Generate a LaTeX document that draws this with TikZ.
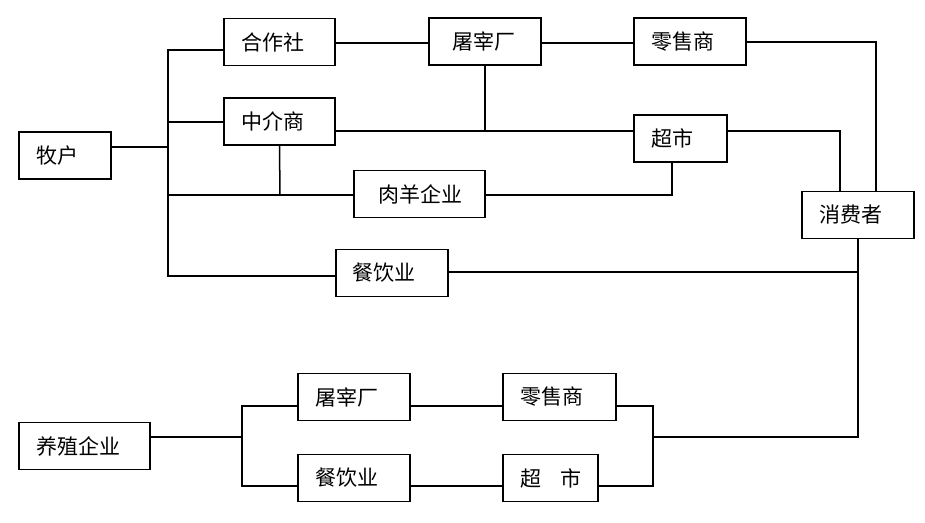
\documentclass[tikz,border=0pt]{standalone}
\usepackage{fontspec}
\newfontfamily\cjk{Noto Sans CJK SC}
\begin{document}
\begin{tikzpicture}[x=1pt,y=-1pt,
  box/.style={draw,line width=1.6pt,inner xsep=17pt,inner ysep=0pt,text width=#1pt,align=left,
    minimum height=47pt,font=\cjk\fontsize{21}{23}\selectfont},
  link/.style={line width=1.5pt}]
\useasboundingbox[fill=white] (0,0) rectangle (925,522);
% upper chain
\node[box=58]  (muhu)      at (65,155.5)  {牧户};
\node[box=77]  (hezuo)     at (279.5,42)  {合作社};
\node[box=77]  (zhongjie)  at (279.5,121.7) {中介商};
\node[box=83,inner xsep=24pt] (rouyang) at (419.5,194) {肉羊企业};
\node[box=78]  (canyinA)   at (391.7,273) {餐饮业};
\node[box=66,inner xsep=23pt] (tuzaiA) at (485,41.5) {屠宰厂};
\node[box=78]  (lingshouA) at (690,41.5)  {零售商};
\node[box=59]  (chaoshiA)  at (680.5,138.5) {超市};
\node[box=78]  (xiaofei)   at (858,215)   {消费者};
% lower chain
\node[box=97]  (yangzhi)   at (84.5,446)  {养殖企业};
\node[box=78]  (tuzaiB)    at (354,397)   {屠宰厂};
\node[box=78]  (canyinB)   at (354,478)   {餐饮业};
\node[box=79]  (lingshouB) at (559.5,397) {零售商};
\node[box=61]  (chaoshiB)  at (550.5,478) {\mbox{超\hspace{0.95em}市}};
% junction points
\coordinate (t1) at (168,50);
\coordinate (t2) at (168,276);
\coordinate (m1) at (280,195);
\coordinate (s1) at (672,195);
\coordinate (c1) at (858,272);
\coordinate (c2) at (858,437);
\coordinate (b1) at (653,437);
\coordinate (b2) at (242,437);
% upper connectors
\draw[link] (muhu.east |- 0,147) -- (168,147);
\draw[link] (hezuo.west |- t1) -- (t1) -- (t2) -- (canyinA.west |- t2);
\draw[link] (168,122) -- (zhongjie.west |- 0,122);
\draw[link] (168,195) -- (rouyang.west |- 0,195);
\draw[link] (zhongjie.south) -- (m1);
\draw[link] (hezuo.east |- 0,43) -- (tuzaiA.west |- 0,43);
\draw[link] (tuzaiA.east |- 0,43) -- (lingshouA.west |- 0,43);
\draw[link] (lingshouA.east |- 0,42) -| (876,0 |- xiaofei.north);
\draw[link] (zhongjie.east |- 0,131) -- (chaoshiA.west |- 0,131);
\draw[link] (tuzaiA.south) -- (tuzaiA.south |- 0,131);
\draw[link] (chaoshiA.east |- 0,131) -| (840,0 |- xiaofei.north);
\draw[link] (672,0 |- chaoshiA.south) -- (s1) -- (rouyang.east |- s1);
\draw[link] (canyinA.east |- c1) -- (c1);
\draw[link] (xiaofei.south) -- (c2) -- (b1);
% lower connectors
\draw[link] (yangzhi.east |- b2) -- (b2);
\draw[link] (tuzaiB.west |- 0,406) -| (242,486) -- (canyinB.west |- 0,486);
\draw[link] (tuzaiB.east |- 0,406) -- (lingshouB.west |- 0,406);
\draw[link] (canyinB.east |- 0,486) -- (chaoshiB.west |- 0,486);
\draw[link] (lingshouB.east |- 0,406) -| (653,486) -- (chaoshiB.east |- 0,486);
\end{tikzpicture}
\end{document}
